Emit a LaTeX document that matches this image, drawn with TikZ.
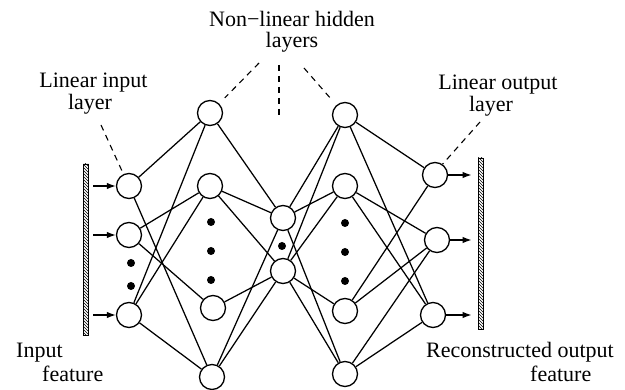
\documentclass[tikz,border=0pt]{standalone}
\usepackage{fontspec}
\setmainfont{Liberation Serif}
\usetikzlibrary{arrows.meta,patterns}

\tikzset{
  neuron/.style={circle, draw, line width=1.3pt, minimum size=25pt, inner sep=0pt},
  link/.style={line width=1.25pt},
  feed/.style={line width=1.25pt, -{Latex[length=9pt,width=6.5pt]}},
  guide/.style={line width=1.1pt, dash pattern=on 6pt off 5pt},
  lbl/.style={font=\fontsize{22}{22}\selectfont, inner sep=0pt},
  dotmark/.style={circle, fill, minimum size=8pt, inner sep=0pt},
  featbar/.style={draw, line width=0.8pt, pattern=north west lines, minimum width=5pt, inner sep=0pt},
}

\begin{document}
\begin{tikzpicture}[x=1pt,y=-1pt]
\useasboundingbox (0,0) rectangle (625,390);

% feature vectors
\node[featbar, minimum height=171pt] (inbar)  at (85.5,249.5) {};
\node[featbar, minimum height=171pt] (outbar) at (480.5,243.5) {};

% linear input layer
\node[neuron] (I1) at (129,186) {};
\node[neuron] (I2) at (129,235) {};
\node[neuron] (I3) at (129,315) {};
\node[dotmark] (di1) at (131,263) {};
\node[dotmark] (di2) at (131,286) {};

% first hidden layer
\node[neuron] (A1) at (210,113) {};
\node[neuron] (A2) at (210,186) {};
\node[neuron] (A3) at (213,308) {};
\node[neuron] (A4) at (212,377) {};
\node[dotmark] (da1) at (211,222) {};
\node[dotmark] (da2) at (211,251) {};
\node[dotmark] (da3) at (211,280) {};

% bottleneck layer
\node[neuron] (M1) at (283,218) {};
\node[neuron] (M2) at (283,271) {};
\node[dotmark] (dm) at (282,246) {};

% second hidden layer
\node[neuron] (B1) at (345,115) {};
\node[neuron] (B2) at (345,186) {};
\node[neuron] (B3) at (345,311) {};
\node[neuron] (B4) at (345,374) {};
\node[dotmark] (db1) at (345,223) {};
\node[dotmark] (db2) at (345,252) {};
\node[dotmark] (db3) at (345,281) {};

% linear output layer
\node[neuron] (O1) at (435,175) {};
\node[neuron] (O2) at (437,240) {};
\node[neuron] (O3) at (433,315) {};

% weights
\foreach \a/\b in {I1/A1, I1/A4, I2/A2, I2/A3, I3/A1, I3/A2, I3/A4,
                   A1/M1, A2/M1, A2/M2, A3/M2, A4/M1, A4/M2,
                   M1/B1, M1/B2, M1/B4, M2/B1, M2/B2, M2/B3, M2/B4,
                   B1/O1, B1/O3, B2/O2, B2/O3, B3/O1, B3/O2, B4/O2, B4/O3}
  \draw[link] (\a) -- (\b);

% input and output arrows
\foreach \n in {I1,I2,I3}
  \draw[feed, shorten <=5pt] (\n -| inbar.east) -- (\n);
\foreach \n in {O1,O2,O3}
  \draw[feed, shorten >=6pt] (\n) -- (\n -| outbar.west);

% labels
\node[lbl, anchor=base] (tNL)  at (292,27) {Non−linear hidden};
\node[lbl, anchor=base] (tNL2) at (292,48) {layers};
\node[lbl, anchor=base] (tLI)  at (93.5,88) {Linear input};
\node[lbl, anchor=base] (tLI2) at (90,110) {layer};
\node[lbl, anchor=base] (tLO)  at (498,90) {Linear output};
\node[lbl, anchor=base] (tLO2) at (491,112) {layer};
\node[lbl, anchor=base west] (tIF)  at (16,358) {Input};
\node[lbl, anchor=base west] (tIF2) at (42,382) {feature};
\node[lbl, anchor=base west] (tRF)  at (426,358) {Reconstructed output};
\node[lbl, anchor=base west] (tRF2) at (530,382) {feature};

% pointer lines from the labels
\coordinate (pIn)  at (101,125);
\coordinate (pOut) at (480,122);
\coordinate (pHL)  at (259,63);
\coordinate (pHR)  at (304,68);
\coordinate (pHT)  at (279,65);
\coordinate (pHB)  at (279,118);
\draw[guide] (pIn) -- (I1.115);
\draw[guide] (pOut) -- (O1.55);
\draw[guide, shorten >=8pt] (pHL) -- (A1);
\draw[guide, shorten >=8pt] (pHR) -- (B1);
\draw[guide] (pHT) -- (pHB);
\end{tikzpicture}
\end{document}
